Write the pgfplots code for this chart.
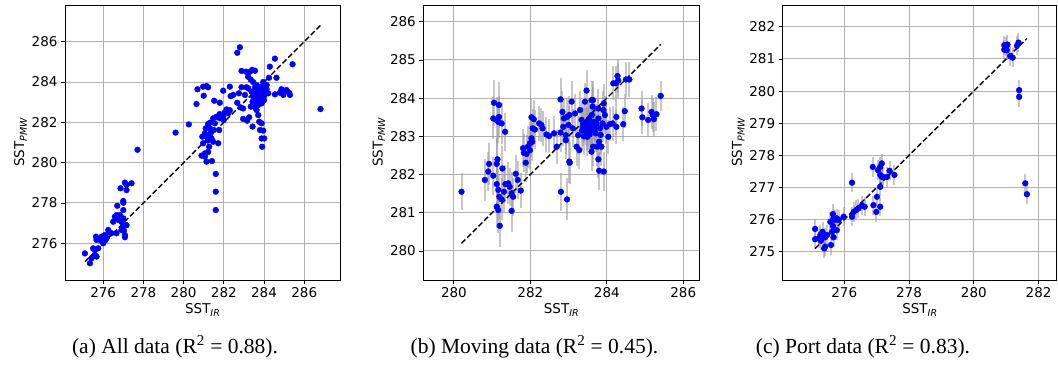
\documentclass[border=0pt]{standalone}
\usepackage{fontspec}
\setmainfont{Liberation Serif}
\newfontfamily\dejavu{DejaVu Sans}
\usepackage{pgfplots}
\usepackage{pgfplotstable}
\pgfplotsset{compat=1.18}
\definecolor{gridgray}{RGB}{176,176,176}
\definecolor{mblue}{RGB}{0,0,255}
\newcommand{\tf}{\dejavu\fontsize{13.5}{15}\selectfont}
\newcommand{\subs}[1]{\raisebox{-0.35ex}{\fontsize{9.5}{10}\selectfont\itshape #1}}

\pgfplotstableread{
x y
275.09 275.50
275.34 275.01
275.42 275.26
275.59 275.67
275.67 275.34
275.50 275.75
275.75 275.75
275.64 276.33
275.83 276.17
275.67 276.17
275.92 276.33
276.08 276.41
276.17 276.25
276.00 276.00
276.41 276.50
276.25 276.66
276.66 276.50
276.50 277.07
276.75 277.16
276.66 277.40
276.58 277.32
276.83 277.40
276.91 277.07
277.00 276.90
276.91 276.66
277.03 276.63
277.08 276.41
277.08 276.30
277.16 276.90
277.00 277.24
276.91 277.24
277.00 277.65
277.00 278.01
277.00 278.10
276.70 277.86
276.86 278.73
277.08 279.01
277.16 278.90
277.16 278.64
277.41 278.98
277.71 280.64
275.59 275.42
275.95 276.10
276.30 276.53
276.10 276.15
279.60 281.49
280.26 281.90
280.64 282.91
280.69 283.64
280.97 283.77
281.00 283.32
281.14 283.80
281.22 283.74
280.93 281.29
280.97 280.96
281.06 280.46
281.06 280.30
281.14 280.05
280.89 280.35
281.22 280.53
281.27 280.79
281.14 281.29
281.06 281.45
281.10 281.70
281.22 281.92
281.31 281.70
281.34 281.45
281.39 281.20
281.47 281.04
281.50 281.62
281.55 281.95
281.31 281.98
281.64 282.28
281.72 280.96
281.41 280.08
281.60 279.44
281.60 278.56
281.60 277.65
281.52 283.07
281.77 281.62
281.80 282.97
281.80 282.41
281.97 282.28
282.05 282.50
281.97 283.57
282.14 282.64
282.22 282.45
282.30 283.77
282.34 283.30
282.47 283.36
282.00 282.12
282.30 282.60
281.80 282.20
281.47 282.20
281.20 281.10
281.30 281.30
282.67 285.45
282.80 285.72
282.75 283.44
282.67 282.97
282.88 284.55
283.10 284.51
282.88 283.74
282.83 282.74
282.96 282.69
283.05 283.36
283.13 283.74
283.21 283.69
282.96 282.17
283.16 282.08
283.26 282.25
283.43 281.79
283.21 284.26
283.30 284.51
283.41 284.60
283.55 284.56
283.34 284.12
283.46 284.00
283.38 283.52
283.46 283.27
283.55 283.10
283.60 282.78
283.50 282.78
283.63 282.61
283.71 282.94
283.80 283.27
283.76 283.52
283.83 283.77
283.96 283.69
284.04 283.44
284.13 283.64
284.00 283.10
283.88 282.94
283.71 282.36
283.76 282.03
283.88 281.95
283.80 281.62
283.96 281.59
283.88 281.20
284.01 281.20
283.91 280.79
283.63 283.85
283.55 283.74
283.63 283.44
283.66 283.19
283.43 283.02
283.34 282.78
283.96 284.00
284.29 284.76
284.54 285.16
284.25 284.21
284.62 284.21
284.54 283.39
284.79 283.47
284.87 283.64
284.96 283.36
285.12 283.60
285.25 283.47
285.29 283.36
285.04 283.57
285.42 284.88
286.81 282.66
284.13 283.85
284.21 283.44
283.50 283.00
283.60 283.20
283.70 283.10
283.55 282.90
283.65 283.30
283.75 283.00
283.45 282.90
283.60 282.70
283.70 282.85
283.85 283.35
283.90 283.55
284.00 283.30
283.90 283.20
284.05 283.60
283.80 283.60
283.70 283.70
}\dataa

\pgfplotstableread{
x y e
280.20 281.55 0.48
280.81 281.86 0.55
280.90 282.08 0.50
280.92 282.28 0.55
281.03 281.97 0.50
281.12 282.28 0.60
281.14 282.40 0.55
281.12 281.75 0.55
281.16 281.60 0.55
281.19 281.42 0.60
281.25 281.35 0.55
281.27 282.16 0.60
281.31 281.55 0.55
281.35 281.75 0.50
281.42 281.77 0.55
281.46 281.68 0.50
281.51 281.51 0.55
281.55 281.42 0.50
281.62 282.02 0.50
281.67 281.86 0.50
281.75 281.58 0.45
281.51 281.05 0.55
281.12 281.16 0.55
281.16 281.07 0.60
281.20 280.66 0.55
281.05 283.88 0.60
281.18 283.82 0.60
281.03 283.47 0.55
281.18 283.51 0.55
281.12 283.43 0.60
281.25 283.34 0.55
281.34 283.12 0.50
281.16 283.38 0.55
281.81 282.69 0.50
281.83 282.57 0.50
281.88 282.31 0.50
281.90 282.54 0.50
281.94 282.73 0.55
281.99 282.82 0.55
282.03 282.95 0.50
281.99 282.64 0.50
282.05 282.86 0.50
282.03 283.50 0.50
282.09 283.45 0.50
282.06 283.21 0.50
282.12 283.18 0.50
282.23 283.34 0.45
282.29 283.30 0.45
282.32 283.21 0.45
282.42 283.05 0.45
282.49 283.01 0.45
282.62 283.08 0.45
282.69 282.73 0.45
282.79 283.97 0.55
282.79 283.10 0.50
282.84 283.64 0.55
282.88 283.47 0.50
282.86 283.25 0.50
282.93 283.03 0.50
282.93 282.90 0.50
282.96 283.51 0.50
283.02 283.56 0.50
283.00 283.30 0.50
283.03 282.31 0.55
283.02 282.34 0.55
282.96 281.35 0.55
282.80 281.55 0.50
283.08 283.91 0.55
283.11 283.21 0.50
283.17 283.60 0.50
283.21 282.73 0.50
283.25 283.03 0.50
283.28 282.64 0.50
283.30 283.69 0.50
283.34 283.43 0.50
283.37 283.25 0.50
283.40 283.34 0.50
283.43 283.91 0.50
283.47 284.20 0.55
283.47 283.12 0.50
283.49 282.99 0.50
283.51 283.25 0.50
283.54 283.45 0.50
283.56 283.12 0.50
283.57 283.34 0.50
283.60 283.95 0.50
283.63 283.78 0.50
283.61 283.56 0.50
283.64 283.95 0.50
283.66 283.38 0.50
283.69 283.21 0.50
283.71 283.08 0.50
283.73 283.34 0.50
283.78 283.73 0.50
283.78 283.47 0.50
283.60 282.60 0.50
283.64 282.73 0.50
283.75 282.73 0.50
283.80 282.86 0.50
283.78 282.40 0.50
283.82 283.21 0.50
283.84 283.04 0.50
283.86 282.73 0.50
283.89 283.34 0.50
283.91 283.69 0.50
283.92 283.86 0.50
283.95 283.56 0.50
283.80 282.10 0.50
283.92 282.08 0.50
283.99 283.25 0.45
284.04 282.99 0.45
284.08 283.32 0.45
284.15 283.34 0.45
284.17 284.39 0.45
284.24 284.39 0.45
284.25 283.51 0.45
284.25 283.25 0.45
284.28 284.58 0.45
284.30 284.46 0.45
284.43 283.32 0.45
284.47 283.66 0.45
284.50 284.49 0.45
284.59 284.49 0.45
284.91 283.73 0.45
284.93 283.50 0.45
285.08 283.43 0.45
285.17 283.64 0.45
285.20 283.56 0.45
285.23 283.45 0.45
285.30 283.58 0.45
285.41 284.06 0.40
283.47 283.21 0.50
283.52 283.15 0.50
283.58 283.22 0.50
283.45 283.28 0.50
283.62 283.18 0.50
283.55 283.05 0.50
283.35 283.15 0.50
283.40 283.00 0.50
283.68 283.30 0.50
283.50 283.40 0.50
}\datab

\pgfplotstableread{
x y e
275.10 275.71 0.30
275.10 275.39 0.30
275.21 275.41 0.30
275.26 275.52 0.30
275.33 275.62 0.30
275.28 275.34 0.30
275.41 275.45 0.30
275.38 275.10 0.30
275.41 275.16 0.30
275.47 275.52 0.30
275.57 275.93 0.30
275.59 275.21 0.30
275.62 275.62 0.30
275.65 276.17 0.30
275.67 276.04 0.30
275.65 275.80 0.30
275.67 275.45 0.30
275.72 275.99 0.30
275.77 275.67 0.30
275.77 276.04 0.30
275.83 275.99 0.30
275.98 276.09 0.30
276.24 276.09 0.30
276.24 277.15 0.30
276.29 276.24 0.30
276.37 276.30 0.30
276.44 276.35 0.30
276.55 276.45 0.30
276.63 276.40 0.30
276.88 277.64 0.30
276.90 276.45 0.30
276.99 276.24 0.30
277.01 276.71 0.30
277.04 277.54 0.30
277.11 277.64 0.30
277.16 277.75 0.30
277.11 277.39 0.30
277.16 277.33 0.30
277.11 277.02 0.30
277.11 276.40 0.30
277.19 277.33 0.30
277.32 277.33 0.30
277.40 277.52 0.30
277.55 277.39 0.30
280.94 281.43 0.30
280.94 281.29 0.30
281.00 281.38 0.30
281.04 281.45 0.30
281.02 281.27 0.30
281.12 281.09 0.30
281.20 281.04 0.30
281.33 281.41 0.30
281.38 281.51 0.30
281.40 280.03 0.30
281.40 279.82 0.30
281.59 277.13 0.30
281.64 276.79 0.30
}\datac

\pgfplotsset{
  sstaxis/.style={
    scale only axis,
    height=275pt,
    axis line style={black, line width=0.8pt},
    grid=major,
    major grid style={gridgray, line width=1pt},
    tick align=outside,
    tick pos=left,
    major tick length=4pt,
    tick style={black, line width=0.8pt},
    tick label style={font=\tf},
    label style={font=\tf},
    /pgf/number format/assume math mode=true,
    /pgf/number format/.cd, fixed, precision=0, 1000 sep={},
    /pgfplots/.cd,
    xlabel={SST\subs{IR}},
    ylabel={SST\subs{PMW}},
    xlabel style={yshift=1pt},
    ylabel style={yshift=-2pt},
  },
  dots/.style={only marks, mark=*, mark size=2.9pt, color=mblue, mark options={solid, fill=mblue, draw=mblue}},
  errs/.style={only marks, mark=none,
    error bars/.cd, y dir=both, y explicit, error mark=none,
    error bar style={line width=2pt, color=black!40, opacity=0.55}},
  oneone/.style={black, line width=1.4pt, dash pattern=on 5.5pt off 2.5pt},
}

\begin{document}
\begin{tikzpicture}
\useasboundingbox (0,0) rectangle (1058pt,377pt);

\begin{axis}[sstaxis, at={(65pt,97pt)}, anchor=south west, width=275pt,
  xmin=274.1, xmax=287.78, ymin=274.18, ymax=287.82,
  xtick={276,278,...,286}, ytick={276,278,...,286}]
  \addplot[oneone] coordinates {(275.09,275.09) (286.81,286.81)};
  \addplot[dots] table[x=x,y=y] {\dataa};
\end{axis}

\begin{axis}[sstaxis, at={(423.3pt,97pt)}, anchor=south west, width=276pt,
  xmin=279.2, xmax=286.42, ymin=279.24, ymax=286.44,
  xtick={280,282,...,286}, ytick={280,281,...,286}]
  \addplot[errs] table[x=x,y=y,y error=e] {\datab};
  \addplot[oneone] coordinates {(280.2,280.2) (285.41,285.41)};
  \addplot[dots] table[x=x,y=y] {\datab};
\end{axis}

\begin{axis}[sstaxis, at={(782.7pt,97pt)}, anchor=south west, width=274pt,
  xmin=274.1, xmax=282.56, ymin=274.12, ymax=282.68,
  xtick={276,278,...,282}, ytick={275,276,...,282}]
  \addplot[errs] table[x=x,y=y,y error=e] {\datac};
  \addplot[oneone] coordinates {(275.1,275.1) (281.64,281.64)};
  \addplot[dots] table[x=x,y=y] {\datac};
\end{axis}

\node[font=\fontsize{21.5}{24}\selectfont] at (175pt,30pt) {(a) All data (R\textsuperscript{2} = 0.88).};
\node[font=\fontsize{21.5}{24}\selectfont] at (534.5pt,30pt) {(b) Moving data (R\textsuperscript{2} = 0.45).};
\node[font=\fontsize{21.5}{24}\selectfont] at (863pt,30pt) {(c) Port data (R\textsuperscript{2} = 0.83).};
\end{tikzpicture}
\end{document}
